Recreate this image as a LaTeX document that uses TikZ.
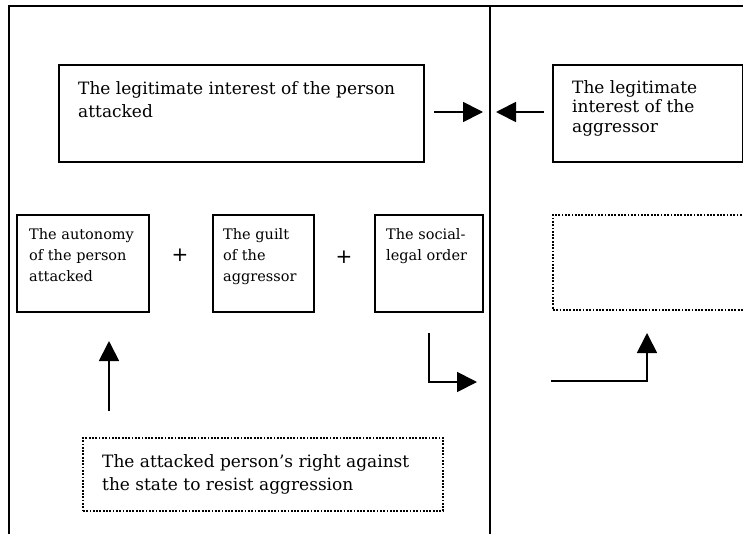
\documentclass[tikz,border=0pt]{standalone}
\usepackage{fontspec}
\setmainfont{DejaVu Serif}
\setsansfont{DejaVu Sans}
\usetikzlibrary{arrows.meta}
\begin{document}
\begin{tikzpicture}[x=1pt,y=-1pt,
  frameline/.style={line width=1.6pt},
  solidbox/.style={draw, line width=1.8pt, inner sep=0pt, anchor=north west},
  dotbox/.style={draw, line width=1.8pt, dash pattern=on 1.8pt off 1.5pt, inner sep=0pt, anchor=north west},
  bigtext/.style={font=\fontsize{17}{23}\selectfont, align=left, anchor=base west, inner sep=0pt},
  smalltext/.style={font=\fontsize{14.5}{21}\selectfont, align=left, anchor=base west, inner sep=0pt},
  plussign/.style={font=\sffamily\fontsize{20}{20}\selectfont, inner sep=0pt},
  arr/.style={line width=1.8pt, -{Triangle[length=20pt,width=20pt]}}]
\useasboundingbox (0,0) rectangle (743,533);
\clip (0,0) rectangle (743,533);
% frame
\coordinate (ftl) at (9,6);
\coordinate (ftr) at (745,6);
\coordinate (fbl) at (9,535);
\coordinate (mt) at (490,6);
\coordinate (mb) at (490,535);
\draw[frameline] (fbl) -- (ftl) -- (ftr);
\draw[frameline] (mt) -- (mb);
% boxes
\node[solidbox, minimum width=365pt, minimum height=97pt] (b1) at (58,64) {};
\node[solidbox, minimum width=190pt, minimum height=97pt] (b2) at (552,64) {};
\node[solidbox, minimum width=132pt, minimum height=97pt] (bA) at (16,214) {};
\node[solidbox, minimum width=101pt, minimum height=97pt] (bB) at (212,214) {};
\node[solidbox, minimum width=108pt, minimum height=97pt] (bC) at (374,214) {};
\node[dotbox, minimum width=230pt, minimum height=95pt] (bD) at (552,214) {};
\node[dotbox, minimum width=360pt, minimum height=73pt] (bE) at (82,437) {};
% texts (anchored at the baseline of the last line)
\node[bigtext] (t1) at (78,117) {The legitimate interest of the person\\attacked};
\node[bigtext, font=\fontsize{17}{19.5}\selectfont] (t2) at (572,132) {The legitimate\\interest of the\\aggressor};
\node[smalltext] (tA) at (29,281) {The autonomy\\of the person\\attacked};
\node[smalltext] (tB) at (223,281) {The guilt\\of the\\aggressor};
\node[smalltext] (tC) at (386,260) {The social-\\legal order};
\node[bigtext] (tE) at (102,490) {The attacked person’s right against\\the state to resist aggression};
\node[plussign] (p1) at (180,255) {+};
\node[plussign] (p2) at (344,257) {+};
% arrows
\coordinate (a1s) at (434,112);
\coordinate (a1e) at (483,112);
\coordinate (a2s) at (544,112);
\coordinate (a2e) at (496,112);
\coordinate (ups) at (109,411);
\coordinate (upe) at (109,341);
\coordinate (e1s) at (429,333);
\coordinate (e1e) at (477,382);
\coordinate (e2s) at (551,381);
\coordinate (e2e) at (647,333);
\draw[arr] (a1s) -- (a1e);
\draw[arr] (a2s) -- (a2e);
\draw[arr] (ups) -- (upe);
\draw[arr] (e1s) |- (e1e);
\draw[arr] (e2s) -| (e2e);
\end{tikzpicture}
\end{document}
